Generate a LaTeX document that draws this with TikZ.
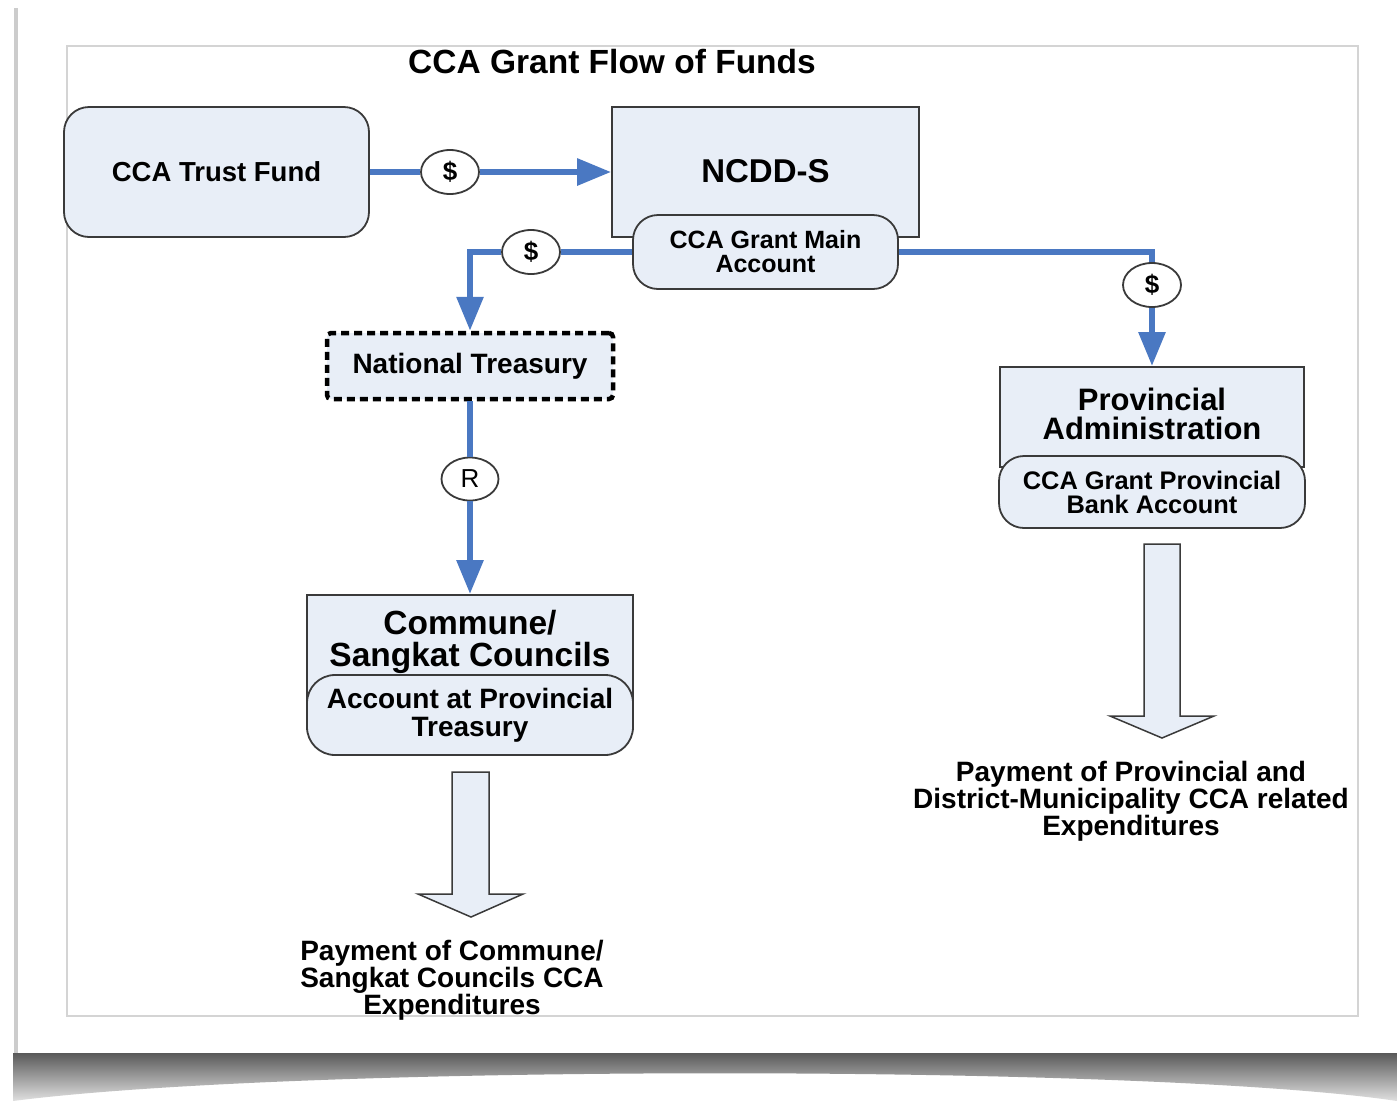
\documentclass[tikz,border=0pt]{standalone}
\usepackage{fontspec}
\setmainfont{Liberation Sans}
\usetikzlibrary{arrows.meta,shapes.geometric}
\definecolor{boxfill}{HTML}{E8EEF7}
\definecolor{flow}{HTML}{4A78C2}
\definecolor{edge}{HTML}{3A3A3A}
\definecolor{framegray}{HTML}{D4D4D4}
\begin{document}
\begin{tikzpicture}[x=1pt,y=-1pt,
  roundbox/.style={draw=edge, fill=boxfill, line width=1.8pt, rounded corners=25pt, align=center, inner sep=0pt},
  sqbox/.style={draw=edge, fill=boxfill, line width=1.8pt, align=center, inner sep=0pt},
  dashbox/.style={draw=black, fill=boxfill, line width=4.5pt, dash pattern=on 8pt off 5pt, rounded corners=4pt, align=center, inner sep=0pt},
  flowline/.style={draw=flow, line width=6pt},
  flowarrow/.style={flowline, -{Triangle[length=34pt,width=26pt]}},
  coin/.style={ellipse, draw=edge, fill=white, line width=1.8pt, minimum width=58pt, minimum height=44pt, inner sep=0pt},
  blockarrow/.style={draw=edge, fill=boxfill, line width=1.5pt, line join=miter},
  plain/.style={align=center, inner sep=0pt}
]
\useasboundingbox (0,0) rectangle (1397,1101);
\fill[white] (0,0) rectangle (1397,1101);
% page edge and curl shadow
\draw[gray!40, line width=4pt] (16,8) -- (16,1054);
\shade[top color=black!65, bottom color=black!12]
  (13,1053) -- (1397,1053) -- (1397,1101) .. controls (1150,1064) and (300,1064) .. (13,1101) -- cycle;
% inner frame
\draw[framegray, line width=2.5pt] (67,46) rectangle (1358,1016);

% title
\node[plain, font=\fontsize{33.5}{36}\bfseries] (title) at (612,62) {CCA Grant Flow of Funds};

% boxes
\node[roundbox, minimum width=305pt, minimum height=130pt, font=\fontsize{27.5}{30}\bfseries] (trust) at (216.5,172) {CCA Trust Fund};
\node[sqbox, minimum width=307pt, minimum height=130pt, font=\fontsize{33}{36}\bfseries] (ncdd) at (765.5,172) {\raisebox{2pt}{NCDD-S}};
\node[roundbox, minimum width=265pt, minimum height=74pt, font=\fontsize{25}{24}\bfseries] (main) at (765.5,252) {CCA Grant Main\\Account};

\node[dashbox, minimum width=286pt, minimum height=66pt, font=\fontsize{28}{30}\bfseries] (nt) at (470,366) {National Treasury};

\node[sqbox, minimum width=326pt, minimum height=110pt, anchor=north] (comm) at (470,594) {};
\node[plain, font=\fontsize{33.5}{32}\bfseries] (commtxt) at (470,642) {Commune/\\Sangkat Councils};
\node[roundbox, rounded corners=28pt, minimum width=326pt, minimum height=80pt, font=\fontsize{28}{28}\bfseries] (commacc) at (470,715) {Account at Provincial\\Treasury};

\node[sqbox, minimum width=304pt, minimum height=100pt, anchor=north] (prov) at (1152,366) {};
\node[plain, font=\fontsize{31}{29}\bfseries] (provtxt) at (1152,414) {Provincial\\Administration};
\node[roundbox, minimum width=306pt, minimum height=72pt, font=\fontsize{25.4}{24}\bfseries] (provacc) at (1152,492) {CCA Grant Provincial\\Bank Account};

% coins
\node[coin, font=\fontsize{26}{26}\bfseries] (coin1) at (450,172) {\$};
\node[coin, font=\fontsize{26}{26}\bfseries] (coin2) at (531,252) {\$};
\node[coin, font=\fontsize{26}{26}\bfseries] (coin3) at (1152,285) {\$};
\node[coin, minimum width=57pt, minimum height=43pt, font=\fontsize{26}{26}\selectfont] (coinR) at (470,479) {R};

% flows
\draw[flowline] (trust.east) -- (coin1);
\draw[flowarrow] (coin1) -- (ncdd.west);
\draw[flowline] (main.west) -- (coin2);
\draw[flowarrow] (coin2) -| (nt.north);
\draw[flowline] (main.east) -| (coin3);
\draw[flowarrow] (coin3) -- (prov.north);
\draw[flowline] (nt.south) -- (coinR);
\draw[flowarrow] (coinR) -- (comm.north);

% block arrows
\draw[blockarrow] (452,772) -- (489,772) -- (489,894) -- (523,894) -- (471,917) -- (418,894) -- (452,894) -- cycle;
\draw[blockarrow] (1144,544) -- (1180,544) -- (1180,716) -- (1214,716) -- (1162,738) -- (1110,716) -- (1144,716) -- cycle;

% outcome texts
\node[plain, font=\fontsize{28}{27}\bfseries] (paycomm) at (452,980) {Payment of Commune/\\Sangkat Councils CCA\\Expenditures};
\node[plain, font=\fontsize{28}{27}\bfseries] (payprov) at (1131,801) {Payment of Provincial and\\District-Municipality CCA related\\Expenditures};
\end{tikzpicture}
\end{document}
